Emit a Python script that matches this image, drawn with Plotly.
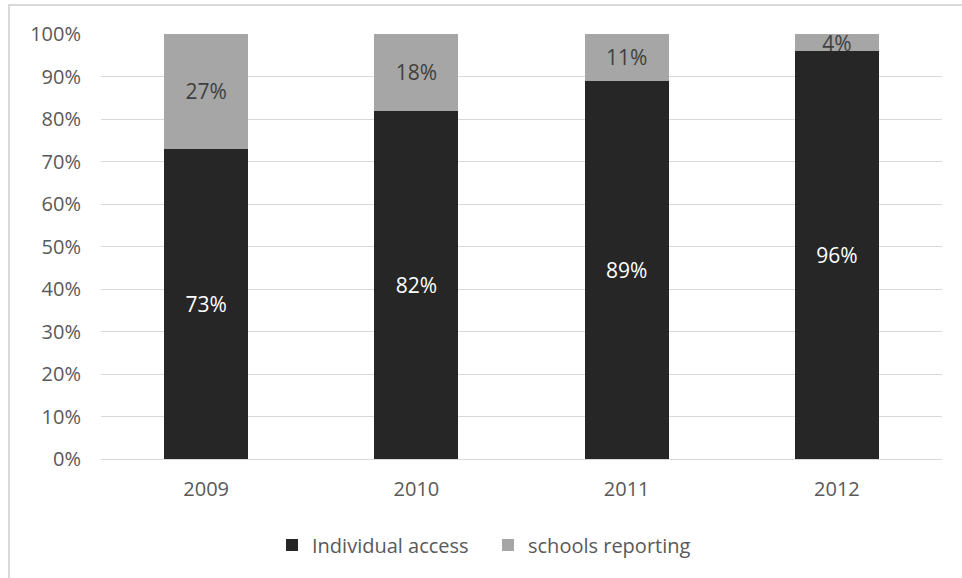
import plotly.graph_objects as go

years = ["2009", "2010", "2011", "2012"]
individual_access = [73, 82, 89, 96]
schools_reporting = [27, 18, 11, 4]

FONT = "Open Sans"
fig = go.Figure()
fig.add_trace(go.Bar(
    x=years, y=individual_access, name="Individual access",
    marker=dict(color="#262626", line=dict(width=0)),
    text=[f"{v}%" for v in individual_access], textposition="inside",
    insidetextanchor="middle", constraintext="none",
    textfont=dict(color="#ffffff", size=21, family=FONT),
))
fig.add_trace(go.Bar(
    x=years, y=schools_reporting, name="schools reporting",
    marker=dict(color="#a6a6a6", line=dict(width=0)),
    text=[f"{v}%" for v in schools_reporting], textposition="inside",
    insidetextanchor="middle", constraintext="none",
    textfont=dict(color="#404040", size=21, family=FONT),
))

L, R, T, B = 101, 20, 34, 119
W, H = 962, 578
pw, ph = W - L - R, H - T - B
def px(x): return (x - L) / pw
def py(y): return (H - B - y) / ph

fig.update_layout(
    width=W, height=H, barmode="stack", bargap=0.6,
    margin=dict(l=L, r=R, t=T, b=B),
    paper_bgcolor="white", plot_bgcolor="white",
    font=dict(family=FONT, color="#595959", size=20),
    xaxis=dict(showgrid=False, showline=False, ticks="", tickfont=dict(size=20, color="#595959"),
               ticklabelstandoff=16),
    yaxis=dict(range=[0, 100], dtick=10, ticksuffix="%", showgrid=True, gridcolor="#d9d9d9",
               gridwidth=1, zeroline=True, zerolinecolor="#d9d9d9", zerolinewidth=1,
               ticks="", tickfont=dict(size=20, color="#595959"), ticklabelstandoff=19),
    legend=dict(orientation="h", x=px(272), xanchor="left", y=py(545), yanchor="middle",
                font=dict(size=20, color="#595959"), traceorder="normal", itemwidth=30,
                entrywidth=171, entrywidthmode="pixels"),
    showlegend=True,
    shapes=[
        dict(type="line", xref="paper", yref="paper", x0=px(9), x1=px(9), y0=py(5), y1=py(580),
             line=dict(color="#d9d9d9", width=2)),
        dict(type="line", xref="paper", yref="paper", x0=px(8), x1=px(964), y0=py(5), y1=py(5),
             line=dict(color="#d9d9d9", width=2)),
    ],
)
fig.write_html("out.html", config={"displayModeBar": False},
               post_script="document.body.style.margin='0px';")
